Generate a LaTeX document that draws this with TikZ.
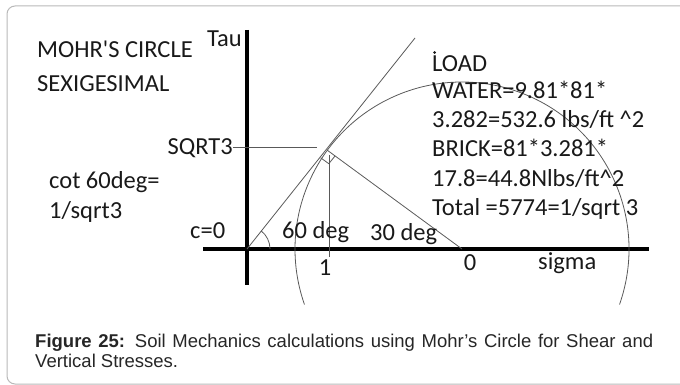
\documentclass[tikz,border=0pt]{standalone}
\usepackage{fontspec}
\newfontfamily\calfont{Carlito}
\newfontfamily\capfont{Liberation Sans}
\begin{document}
\begin{tikzpicture}[x=1pt,y=-1pt,
  lbl/.style={anchor=base west, inner sep=0pt, text=black!90, font=\calfont\fontsize{24.5}{29}\selectfont},
  lble/.style={lbl, anchor=base east},
  lblc/.style={lbl, anchor=base},
  caption/.style={anchor=base west, inner sep=0pt, text=black!85, font=\capfont\fontsize{18.5}{20}\selectfont},
  thinl/.style={draw=black!65, line width=0.8pt},
  axisline/.style={draw=black, line width=3.6pt}]
\useasboundingbox (0,0) rectangle (680,385);
\draw[gray!55, line width=1pt, rounded corners=8pt] (7,6) rectangle (690,384);

% coordinates
\coordinate (O) at (247,249);
\coordinate (C) at (462,249);
\coordinate (P) at (327,150);
\coordinate (Ltop) at (415,38);
\coordinate (Vtop) at (247,30);
\coordinate (Vbot) at (247,285);
\coordinate (Hl) at (203,249);
\coordinate (Hr) at (649,249);
\coordinate (S1) at (233,147);
\coordinate (S2) at (317,147);
\coordinate (V1) at (329,155);
\coordinate (V2) at (329,257);
\coordinate (RA) at (320.7,157.8);
\coordinate (RD) at (328.8,163.7);
\coordinate (RB) at (335.1,155.9);
\coordinate (ArcS) at (619.5,304.5);
\coordinate (AngS) at (270,249);

% axes
\draw[axisline] (Vtop) -- (Vbot);
\draw[axisline] (Hl) -- (Hr);

% construction lines
\draw[thinl] (O) -- (Ltop);
\draw[thinl] (P) -- (C);
\draw[thinl] (S1) -- (S2);
\draw[thinl] (V1) -- (V2);
\draw[thinl] (RA) -- (RD) -- (RB);
\draw[thinl] (ArcS) arc[start angle=19.4, end angle=-199.4, radius=167];
\draw[thinl] (AngS) arc[start angle=0, end angle=-52, radius=23];

% labels
\node[lbl] (t1) at (37,58) {MOHR'S CIRCLE};
\node[lbl] (t2) at (37,92) {SEXIGESIMAL};
\node[lble] (tau) at (242,47) {Tau};
\node[lble] (sq) at (233,154) {SQRT3};
\node[lbl] (cot) at (49,188) {cot 60deg=};
\node[lbl] (inv) at (49,218) {1/sqrt3};
\node[lbl] (c0) at (190,238) {c=0};
\node[lbl] (d60) at (282,238) {60 deg};
\node[lbl] (d30) at (370,240) {30 deg};
\node[lblc] (one) at (325,275) {1};
\node[lblc] (zero) at (470,270) {0};
\node[lbl] (sig) at (538,269) {sigma};

\node[lbl] (load) at (432,72) {LOAD};
\fill[black!90, shift={(load.base west)}] (2.6,-19.5) circle (1.4pt);
\node[lbl] (w1) at (432,99) {WATER=9.81*81*};
\node[lbl] (w2) at (432,128) {3.282=532.6 lbs/ft \textasciicircum2};
\node[lbl] (b1) at (432,157) {BRICK=81*3.281*};
\node[lbl] (b2) at (432,186) {17.8=44.8Nlbs/ft\textasciicircum2};
\node[lbl] (tot) at (432,215) {Total =5774=1/sqrt 3};

% caption
\node[caption] (cap1) at (35,347) {\makebox[618pt][s]{\textbf{Figure 25:} Soil Mechanics calculations using Mohr’s Circle for Shear and}};
\node[caption] (cap2) at (35,367) {Vertical Stresses.};
\end{tikzpicture}
\end{document}
